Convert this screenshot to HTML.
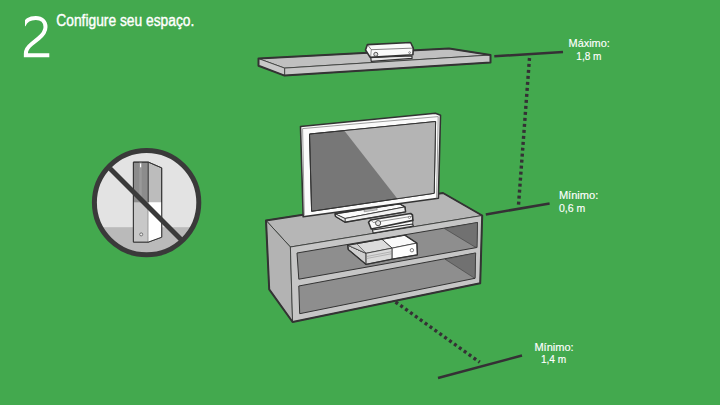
<!DOCTYPE html>
<html><head><meta charset="utf-8">
<style>
html,body{margin:0;padding:0;width:720px;height:405px;overflow:hidden;background:#43a94e;}
svg{display:block;}
text{font-family:"Liberation Sans",sans-serif;fill:#fff;}
</style></head>
<body>
<svg width="720" height="405" viewBox="0 0 720 405">
<rect width="720" height="405" fill="#43a94e"/>

<!-- Title -->
<clipPath id="c2"><polygon points="25,0 60,0 60,70 0,70 0,32 25,32"/></clipPath>
<path clip-path="url(#c2)" d="M23.6 25.6 C25.6 20.2 30.3 17.9 35.8 17.9 C41.8 17.9 45.5 21.6 45.5 27 C45.5 31.6 43.2 34.6 38.6 38.4 L31.6 44 C27.6 47.2 25.85 49.8 25.85 53.5 L25.85 55.3 L49.3 55.3" fill="none" stroke="#fff" stroke-width="4" stroke-miterlimit="10"/>
<text x="56.3" y="25.6" font-size="15.6" textLength="138" lengthAdjust="spacingAndGlyphs" stroke="#fff" stroke-width="0.4">Configure seu espaço.</text>

<!-- Labels -->
<g stroke="#fff" stroke-width="0.15" lengthAdjust="spacingAndGlyphs">
<text x="568.6" y="47" font-size="11" textLength="41.2" lengthAdjust="spacingAndGlyphs">Máximo:</text>
<text x="576.3" y="59.6" font-size="11.4" textLength="25.2" lengthAdjust="spacingAndGlyphs">1,8 m</text>
<text x="558.9" y="198.8" font-size="11" textLength="39.4" lengthAdjust="spacingAndGlyphs">Mínimo:</text>
<text x="558.9" y="211.8" font-size="11.4" textLength="26.3" lengthAdjust="spacingAndGlyphs">0,6 m</text>
<text x="534.4" y="350.8" font-size="11" textLength="39.2" lengthAdjust="spacingAndGlyphs">Mínimo:</text>
<text x="540.9" y="363.3" font-size="11.4" textLength="25.3" lengthAdjust="spacingAndGlyphs">1,4 m</text>
</g>

<!-- Dimension lines -->
<g stroke="#353035" stroke-width="2.5" fill="none">
<line x1="494.3" y1="56.3" x2="563" y2="52"/>
<line x1="485.8" y1="214.4" x2="549.6" y2="203.5"/>
<line x1="438" y1="378" x2="522" y2="355.5"/>
</g>
<g stroke="#353035" stroke-width="3.4" fill="none" stroke-dasharray="3 3">
<line x1="529.5" y1="58" x2="518.5" y2="205"/>
<line x1="395.5" y1="302" x2="479.8" y2="362.2"/>
</g>

<!-- Shelf -->
<g stroke="#333" stroke-linejoin="round">
<polygon points="258.5,58.6 449,48.5 490.5,55 284.6,68.1" fill="#c0c0c0" stroke-width="0.8"/>
<polygon points="284.6,68.1 490.5,55 490.5,62.5 284.6,75.6" fill="#c6c6c6" stroke-width="0.8"/>
<polygon points="258.5,58.6 284.6,68.1 284.6,75.6 258.5,65.8" fill="#c8c8c8" stroke-width="0.8"/>
<polygon points="258.5,58.6 449,48.5 490.5,55 490.5,62.5 284.6,75.6 258.5,65.8" fill="none" stroke-width="2"/>
</g>
<!-- Kinect on shelf -->
<g stroke="#333" stroke-linejoin="round">
<polygon points="370.8,57.5 412,56 412,58.4 371.2,61.3" fill="#e8e8e8" stroke-width="1.2"/>
<polygon points="365.5,50 367.4,44.6 410.6,42.5 413.3,48.1 412.9,54.7 370.2,57.4" fill="#fafafa" stroke-width="1.6"/>
<polyline points="367.4,44.6 371.3,49.7 413.3,48.1" fill="none" stroke-width="0.6"/>
<line x1="371.3" y1="49.7" x2="370.6" y2="57.3" stroke-width="0.5"/>
<circle cx="375.8" cy="54.3" r="2" fill="#ddd" stroke-width="0.8"/>
<circle cx="409.6" cy="52.6" r="0.9" fill="#fff" stroke-width="0.5"/>
</g>

<!-- Stand -->
<g stroke="#333" stroke-linejoin="round">
<polygon points="266,220.4 443,193 482.2,215.5 290.4,247" fill="#b6b6b6" stroke-width="0.8"/>
<polygon points="266,220.4 290.4,247 292.6,322 269.2,289.3" fill="#b3b3b3" stroke-width="0.8"/>
<polygon points="290.4,247 482.2,215.5 480.2,283.2 292.6,322" fill="#c6c6c6" stroke-width="0.8"/>
<polygon points="297,253 477.5,222.5 476.9,247.5 298.8,279.2" fill="#8e8e8e" stroke-width="1"/>
<polygon points="444.4,228.5 477.5,222.5 476.9,247.5 475,247" fill="#717171" stroke-width="0.5"/>
<polygon points="298.8,286 475.6,253 475,278.3 299.7,313.7" fill="#8e8e8e" stroke-width="1"/>
<polygon points="445,259.2 475.6,253 475,278.3 473.9,277.8" fill="#717171" stroke-width="0.5"/>
<polygon points="266,220.4 443,193 482.2,215.5 480.2,283.2 292.6,322 269.2,289.3" fill="none" stroke-width="2"/>
</g>

<!-- Xbox console on shelf -->
<clipPath id="uo"><polygon points="297,253 477.5,222.5 476.9,247.5 298.8,279.2"/></clipPath>
<g stroke="#333" stroke-linejoin="round" clip-path="url(#uo)">
<polygon points="347.8,245.2 366.1,253.3 366.1,264.4 348.2,249.5" fill="#cfcfcf" stroke-width="1"/>
<polygon points="347.8,245.2 382,239.2 392.2,248.1 366.1,253.3" fill="#dcdcdc" stroke-width="0.8"/>
<polygon points="347.8,245.2 356.7,243.6 366.1,253.3" fill="#d2d2d2" stroke-width="0.6"/>
<polygon points="382,239.2 404.8,235.1 416.9,243.1 392.2,248.1" fill="#fafafa" stroke-width="0.8"/>
<polygon points="366.1,253.3 392.2,248.1 392.2,259.2 366.1,264.4" fill="#dadada" stroke-width="0.8"/>
<polygon points="392.2,248.1 416.9,243.1 417.4,254.8 392.2,259.2" fill="#ffffff" stroke-width="0.8"/>
<line x1="366.1" y1="256.6" x2="392.2" y2="251.6" stroke-width="0.5" stroke="#888"/>
<line x1="366.1" y1="258.6" x2="392.2" y2="253.6" stroke-width="0.5" stroke="#888"/>
<polygon points="347.8,245.2 382,239.2 404.8,235.1 416.9,243.1 417.4,254.8 392.2,259.2 366.1,264.4 348.2,249.5" fill="none" stroke-width="1.3"/>
<circle cx="411.9" cy="250.2" r="1.7" fill="#fff" stroke-width="0.6"/>
</g>

<!-- TV pedestal -->
<g stroke="#333" stroke-linejoin="round">
<polygon points="335,213.75 399.4,203.75 405,206.9 345,218.5" fill="#fbfbfb" stroke-width="1"/>
<polygon points="345,218.5 405,206.9 405.6,211.9 345,222.25" fill="#f2f2f2" stroke-width="0.8"/>
<polygon points="335,213.75 345,218.5 345,222.25 335.5,216.5" fill="#e6e6e6" stroke-width="0.8"/>
<polygon points="335,213.75 399.4,203.75 405,206.9 405.6,211.9 345,222.25 335.5,216.5" fill="none" stroke-width="1.4"/>
</g>

<!-- TV -->
<g stroke="#333" stroke-linejoin="round">
<polygon points="300.5,126.5 435.4,113.3 440.5,115.2 438.4,198.2 303.2,216.8" fill="#fbfbfb" stroke-width="1.6"/>
<polyline points="304.3,215.6 302.6,128.6 438.2,116.6 436.6,198.3" fill="none" stroke="#777" stroke-width="0.7"/>
<polygon points="364,210 377,208 377.2,209.8 364.2,211.8" fill="#cfcfcf" stroke="#666" stroke-width="0.5"/>
<polygon points="309.5,134 435.6,121.5 434.2,193.3 311.6,211.3" fill="#777" stroke-width="1"/>
<polygon points="344.2,130.6 435.6,121.5 434.2,193.3 397.6,198.9" fill="#b4b4b4" stroke="none"/>
<polygon points="309.5,134 435.6,121.5 434.2,193.3 311.6,211.3" fill="none" stroke-width="1"/>
</g>

<!-- Kinect under TV -->
<g stroke="#333" stroke-linejoin="round">
<polygon points="371.5,226.5 412.8,219.5 412.8,224.3 372.5,230.2" fill="#fafafa" stroke-width="1"/>
<polygon points="372.5,230 412.5,224 413.5,226.2 373.1,233.1" fill="#ececec" stroke-width="1.2"/>
<polygon points="368.5,222.25 370.6,220 410.6,213.5 412.5,215 412.9,220.4 371.25,229" fill="#fafafa" stroke-width="1.6"/>
<polyline points="370.6,220 373.5,222.5 412.5,216.2" fill="none" stroke-width="0.5"/>
<circle cx="378.1" cy="223.1" r="2.6" fill="#e2e2e2" stroke-width="0.8"/>
<circle cx="409.4" cy="217.4" r="1.1" fill="#fff" stroke-width="0.5"/>
</g>

<!-- No-sign -->
<g>
<circle cx="146.6" cy="202.6" r="52.2" fill="#e3e3e3"/>
<clipPath id="cc"><circle cx="146.6" cy="202.6" r="52.2"/></clipPath>
<rect x="90" y="227.2" width="120" height="40" fill="#bababa" clip-path="url(#cc)"/>
<g stroke="#333" stroke-linejoin="round">
<polygon points="133.4,162.1 148.3,162.1 148.3,242.1 133.4,242.1" fill="#8c8c8c" stroke-width="0.8"/>
<rect x="133.4" y="202.3" width="14.9" height="39.8" fill="#c8c8c8" stroke="none"/>
<polygon points="148.3,162.1 161.7,167.9 161.7,237.2 148.3,242.1" fill="#bcbcbc" stroke-width="0.8"/>
<polygon points="148.3,202.3 161.7,202.3 161.7,237.2 148.3,242.1" fill="#ffffff" stroke="none"/>
<polygon points="133.4,162.1 148.3,162.1 161.7,167.9 161.7,237.2 148.3,242.1 133.4,242.1" fill="none" stroke-width="1"/>
<circle cx="141.2" cy="234.4" r="1.5" fill="#eee" stroke-width="0.6"/>
<rect x="139.3" y="162.6" width="2.4" height="39.6" fill="#9a9a9a" stroke="none"/>
<rect x="140" y="163.5" width="1.2" height="3.8" fill="#fff" stroke="none"/>
</g>
<line x1="110" y1="168.4" x2="182" y2="240.4" stroke="#3a3a3a" stroke-width="5"/>
<circle cx="146.6" cy="202.6" r="52.2" fill="none" stroke="#3a3a3a" stroke-width="5"/>
</g>
</svg>
</body></html>
